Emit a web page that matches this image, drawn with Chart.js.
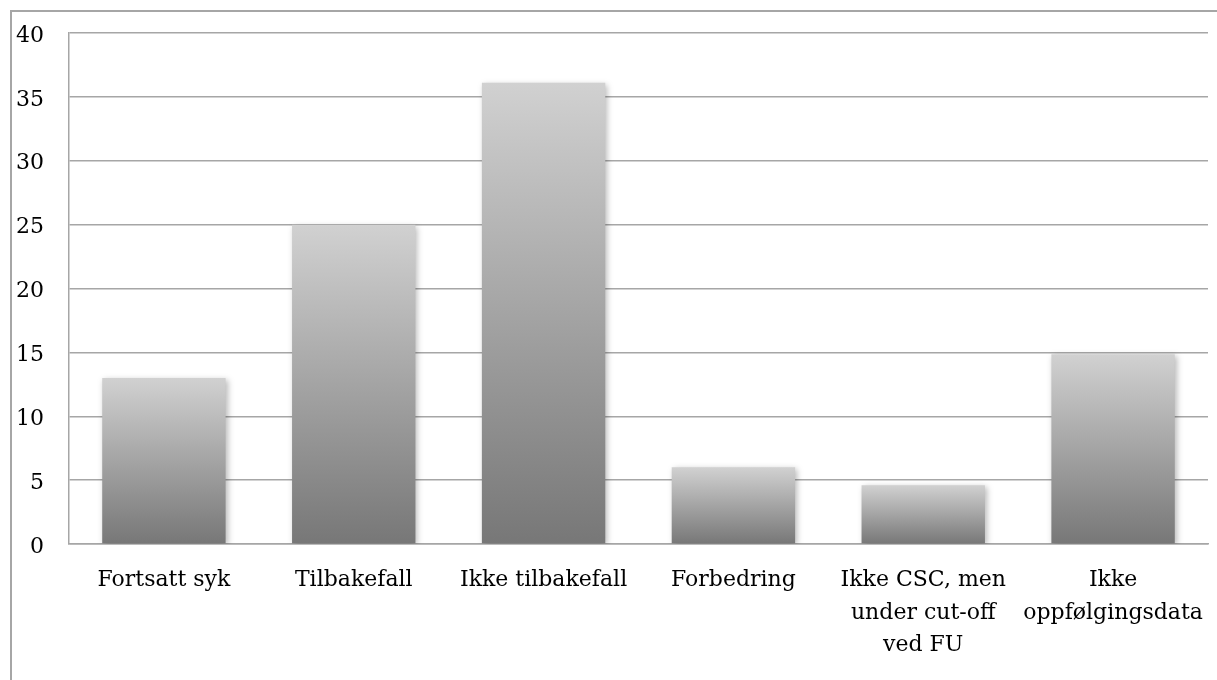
<!DOCTYPE html>
<html>
<head>
<meta charset="utf-8">
<script src="https://cdn.jsdelivr.net/npm/chart.js@4"></script>
<style>
  html, body { margin: 0; padding: 0; background: #fff; overflow: hidden; }
  #wrap { position: relative; width: 1217px; height: 680px; }
  #frame { position: absolute; left: 10px; top: 10px; width: 1400px; height: 900px;
           border-left: 2px solid #a6a6a6; border-top: 2px solid #a6a6a6; }
  canvas { position: absolute; left: 0; top: 0; }
</style>
</head>
<body>
<div id="wrap">
  <div id="frame"></div>
  <canvas id="chart" width="1217" height="680"></canvas>
</div>
<script>
var categories = [
  "Fortsatt syk",
  "Tilbakefall",
  "Ikke tilbakefall",
  "Forbedring",
  ["Ikke CSC, men", "under cut-off", "ved FU"],
  ["Ikke", "oppfølgingsdata"]
];
var values = [13, 25, 36.1, 6, 4.6, 14.85];
var yTicks = [0, 5, 10, 15, 20, 25, 30, 35, 40];

var gridColor = "#a6a6a6";
var labelFont = { family: "'DejaVu Serif', serif", size: 22, lineHeight: 1.48 };

function barGradient(c) {
  var chart = c.chart;
  if (!chart.chartArea) return "#aaaaaa";
  var y = chart.scales.y;
  var top = y.getPixelForValue(c.raw);
  var bot = y.getPixelForValue(0);
  var g = chart.ctx.createLinearGradient(0, top, 0, bot);
  g.addColorStop(0, "#d1d1d1");
  g.addColorStop(1, "#777777");
  return g;
}

var shadow = {
  id: "barShadow",
  beforeDatasetsDraw: function(chart) {
    var ctx = chart.ctx;
    ctx.save();
    ctx.shadowColor = "rgba(0,0,0,0.28)";
    ctx.shadowBlur = 6;
    ctx.shadowOffsetX = 2;
    ctx.shadowOffsetY = 2;
  },
  afterDatasetsDraw: function(chart) {
    chart.ctx.restore();
  }
};

// keep the plot box where the layout padding puts it
function noOverhang(axis) {
  axis.paddingLeft = 0;
  axis.paddingRight = 0;
  axis.paddingTop = 0;
  axis.paddingBottom = 0;
}

var ctx = document.getElementById("chart").getContext("2d");
var barChart = new Chart(ctx, {
  type: "bar",
  data: {
    labels: categories,
    datasets: [{
      data: values,
      backgroundColor: barGradient,
      borderWidth: 0,
      barPercentage: 0.65,
      categoryPercentage: 1
    }]
  },
  options: {
    responsive: false,
    animation: false,
    layout: { padding: { left: 16, top: 33, right: 9, bottom: 18 } },
    plugins: {
      legend: { display: false },
      tooltip: { enabled: false }
    },
    scales: {
      x: {
        afterFit: function(axis) {
          noOverhang(axis);
          axis.height = 118;
        },
        grid: { display: false, drawTicks: false },
        border: { display: true, color: gridColor, width: 1.5 },
        ticks: {
          color: "#000",
          font: labelFont,
          padding: 20,
          maxRotation: 0,
          autoSkip: false
        }
      },
      y: {
        min: 0,
        max: 40,
        afterFit: function(axis) {
          noOverhang(axis);
          axis.width = 53;
        },
        afterBuildTicks: function(axis) {
          axis.ticks = yTicks.map(function(v) { return { value: v }; });
        },
        grid: { color: gridColor, lineWidth: 1.5, drawTicks: false },
        border: { display: true, color: gridColor, width: 1.5 },
        ticks: {
          color: "#000",
          font: labelFont,
          padding: 25,
          labelOffset: 3
        }
      }
    }
  },
  plugins: [shadow]
});
</script>
</body>
</html>
